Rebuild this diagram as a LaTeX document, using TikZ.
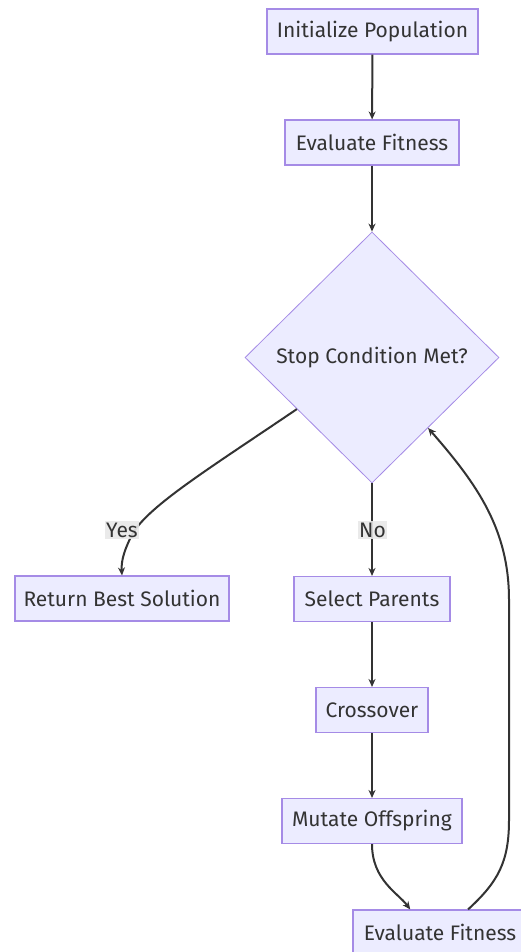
\documentclass[tikz,border=0pt]{standalone}
\usepackage{fontspec}
\setmainfont{Fira Sans}
\usetikzlibrary{shapes.geometric,arrows.meta,calc}
\definecolor{boxfill}{HTML}{ECECFF}
\definecolor{boxline}{HTML}{A58BE6}
\definecolor{txt}{HTML}{333333}
\definecolor{lblbg}{HTML}{E8E8E8}
\tikzset{
  procbox/.style={draw=boxline, fill=boxfill, line width=1.1pt, text=txt,
    font=\fontsize{21}{25}\selectfont, inner sep=0pt, minimum height=45pt},
  decbox/.style={diamond, draw=boxline, fill=boxfill, line width=0.8pt, text=txt,
    font=\fontsize{21}{25}\selectfont, inner sep=0pt, aspect=1,
    minimum width=254pt, minimum height=251pt},
  edge/.style={draw=txt, line width=2pt, -{Stealth[length=8pt,width=7pt]}},
  lbl/.style={fill=lblbg, text=txt, font=\fontsize{21}{25}\selectfont,
    inner sep=1.5pt, fill opacity=0.9, text opacity=1}
}
\begin{document}
\begin{tikzpicture}[x=1pt,y=-1pt]
\path[use as bounding box, fill=white] (0,0) rectangle (521,952);
\clip (0,0) rectangle (521,952);
\node[procbox, minimum width=211pt] (init) at (372.5,31.5) {Initialize Population};
\node[procbox, minimum width=174pt] (eval1) at (372,142.5) {Evaluate Fitness};
\node[decbox] (dia) at (372,357.5) {Stop Condition Met?};
\node[procbox, minimum width=214pt] (ret) at (122,598.5) {Return Best Solution};
\node[procbox, minimum width=156pt] (sel) at (372,599) {Select Parents};
\node[procbox, minimum width=112pt] (cross) at (372,710) {Crossover};
\node[procbox, minimum width=180pt] (mut) at (372,821) {Mutate Offspring};
\node[procbox, minimum width=174pt] (eval2) at (440,932.5) {Evaluate Fitness};

\coordinate (ys) at ($(dia.west)!0.41!(dia.south)$);
\coordinate (bk) at ($(dia.east)!0.56!(dia.south)$);
\coordinate (e2in) at ($(eval2.north west)!0.33!(eval2.north east)$);
\coordinate (e2out) at ($(eval2.north west)!0.66!(eval2.north east)$);

\draw[edge] (init) -- (eval1);
\draw[edge] (eval1) -- (dia.north);
\draw[edge] (dia.south) -- (sel.north);
\draw[edge] (ys) .. controls (210,468) and (150,505) .. (133,533)
  .. controls (125,548) and (121,560) .. (ret.north);
\draw[edge] (sel) -- (cross);
\draw[edge] (cross) -- (mut);
\draw[edge] (mut.south) .. controls (372,880) and (398,893) .. (e2in);
\draw[edge] (e2out) .. controls (498,882) and (509,862) .. (509,820)
  -- (509,600) .. controls (509,530) and (478,485) .. (bk);

\node[lbl] (yes) at (122,530) {Yes};
\node[lbl] (no) at (372.5,530) {No};
\end{tikzpicture}
\end{document}
